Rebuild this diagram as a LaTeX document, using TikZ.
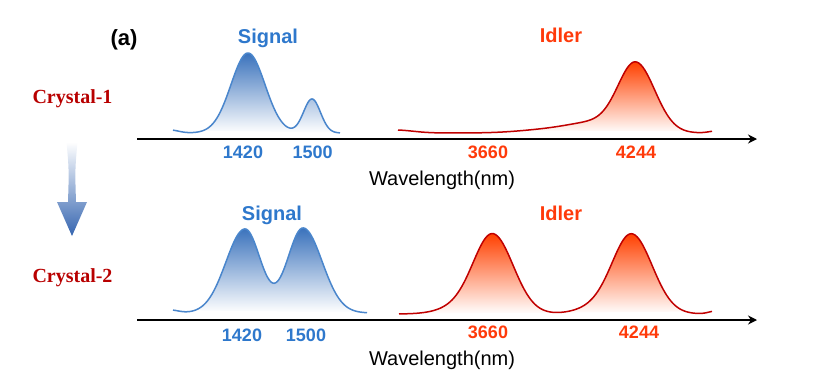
\documentclass[tikz,border=0pt]{standalone}
\usepackage{fontspec}
\setmainfont{Liberation Sans}
\newfontfamily\crystalfont{Liberation Serif}
\usepackage{tikz}
\usetikzlibrary{arrows.meta}

\definecolor{sigblue}{HTML}{2E78CC}
\definecolor{sigstroke}{HTML}{4A86CC}
\definecolor{sigfill}{HTML}{3A72BC}
\definecolor{idlred}{HTML}{FF3A0A}
\definecolor{idlstroke}{HTML}{C00000}
\definecolor{idlfill}{HTML}{FF4000}
\definecolor{crystred}{HTML}{B80000}
\definecolor{arrowblue}{HTML}{3565B0}

\begin{document}
\begin{tikzpicture}[
    x=1pt, y=-1pt,
    declare function={
        pk(\pos,\cen,\wid)=exp(-((\pos-\cen)/\wid)^2);
        apk(\pos,\cen,\wa,\wb)=exp(-((\pos-\cen)/((\pos<\cen)*\wa+(\pos>=\cen)*\wb))^2);
        sigA(\pos)=133-80*pk(\pos,248,24)-34*pk(\pos,312,12)-3*pk(\pos,170,12);
        idlA(\pos)=133-68*apk(\pos,636,25,27)-10*pk(\pos,595,38)-3*pk(\pos,545,40)-3*pk(\pos,395,25)-2*pk(\pos,716,10);
        sigB(\pos)=313-84*apk(\pos,245,27,22)-85*apk(\pos,303,22,27)-3*pk(\pos,170,12);
        idlB(\pos)=314-78*apk(\pos,493,27,29)-7*pk(\pos,462,30)-78*apk(\pos,632,27,29)-7*pk(\pos,600,30)-3*pk(\pos,716,10);
    },
    title/.style={font=\bfseries\fontsize{20}{24}\selectfont, inner sep=0pt, anchor=base},
    wlabel/.style={font=\bfseries\fontsize{18}{22}\selectfont, inner sep=0pt, anchor=base},
    axislabel/.style={font=\fontsize{20}{24}\selectfont, inner sep=0pt, anchor=base},
    crystal/.style={font=\crystalfont\bfseries\fontsize{20}{24}\selectfont, text=crystred, inner sep=0pt, anchor=base},
    axis/.style={-{Stealth[length=9pt, width=9pt]}, line width=1.5pt},
    sigcurve/.style={draw=sigstroke, line width=1.5pt},
    idlcurve/.style={draw=idlstroke, line width=1.5pt},
    sigshade/.style={top color=sigfill, bottom color=white},
    idlshade/.style={top color=idlfill, bottom color=white}
]
\useasboundingbox (0,0) rectangle (825,375);

% labels
\node[font=\bfseries\fontsize{22}{26}\selectfont, inner sep=0pt, anchor=base] (tag) at (124,45) {(a)};
\node[crystal] (cry1) at (72.5,103) {Crystal-1};
\node[crystal] (cry2) at (72.5,282.5) {Crystal-2};

% crystal-1 -> crystal-2
\shade[top color=white, bottom color=arrowblue]
    (66.5,142) -- (77.5,142) .. controls (75,170) .. (76,202) -- (87,202) -- (72,236)
    -- (57,202) -- (68,202) .. controls (69,170) .. (66.5,142) -- cycle;

% top panel
\shade[sigshade] plot[domain=173:340, samples=120] (\x,{sigA(\x)}) -- cycle;
\draw[sigcurve] plot[domain=173:340, samples=120] (\x,{sigA(\x)});
\shade[idlshade] plot[domain=398:712, samples=160] (\x,{idlA(\x)}) -- cycle;
\draw[idlcurve] plot[domain=398:712, samples=160] (\x,{idlA(\x)});

\coordinate (axAs) at (137,139);
\coordinate (axAe) at (757,139);
\draw[axis] (axAs) -- (axAe);

\node[title, text=sigblue] (sigA) at (268,43.3) {Signal};
\node[title, text=idlred] (idlA) at (561,42.7) {Idler};
\node[wlabel, text=sigblue] (wA1) at (243,158.3) {1420};
\node[wlabel, text=sigblue] (wA2) at (312.7,158.3) {1500};
\node[wlabel, text=idlred] (wA3) at (488,158.3) {3660};
\node[wlabel, text=idlred] (wA4) at (636,158.3) {4244};
\node[axislabel] (xlabA) at (442,185) {Wavelength(nm)};

% bottom panel
\shade[sigshade] plot[domain=173:367, samples=120] (\x,{sigB(\x)}) -- cycle;
\draw[sigcurve] plot[domain=173:367, samples=120] (\x,{sigB(\x)});
\shade[idlshade] plot[domain=399:712, samples=160] (\x,{idlB(\x)}) -- cycle;
\draw[idlcurve] plot[domain=399:712, samples=160] (\x,{idlB(\x)});

\coordinate (axBs) at (137,320);
\coordinate (axBe) at (757,320);
\draw[axis] (axBs) -- (axBe);

\node[title, text=sigblue] (sigB) at (272,220) {Signal};
\node[title, text=idlred] (idlB) at (561,220.7) {Idler};
\node[wlabel, text=sigblue] (wB1) at (242,341.7) {1420};
\node[wlabel, text=sigblue] (wB2) at (306,341.7) {1500};
\node[wlabel, text=idlred] (wB3) at (488,338.5) {3660};
\node[wlabel, text=idlred] (wB4) at (639,338.5) {4244};
\node[axislabel] (xlabB) at (442,365) {Wavelength(nm)};
\end{tikzpicture}
\end{document}
